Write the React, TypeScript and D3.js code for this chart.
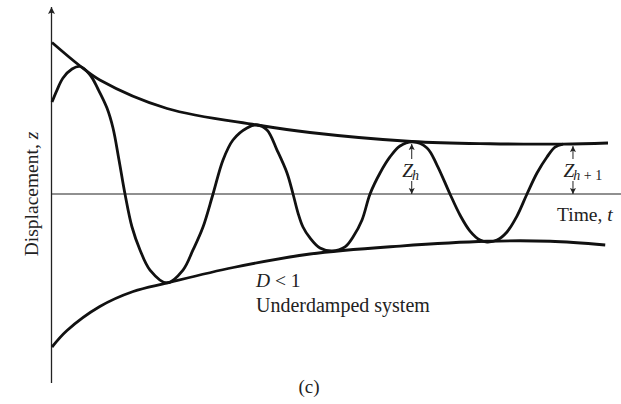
import React from 'react';
import * as d3 from 'd3';

// values: t runs 0..10 across, z is displacement (+1 at top of envelope)
const upperEnvelope: [number, number][] = [
  [0, 1.01], [0.5, 0.855], [0.86, 0.76], [2.07, 0.57], [3.69, 0.46],
  [4.64, 0.41], [6.47, 0.35], [7.88, 0.335], [9.19, 0.333], [10, 0.34],
];

const lowerEnvelope: [number, number][] = [
  [0, -1.02], [0.27, -0.91], [0.86, -0.75], [1.46, -0.65], [2.07, -0.593],
  [3.26, -0.49], [4.64, -0.4], [6.26, -0.347], [7.82, -0.315], [8.96, -0.315], [9.95, -0.34],
];

// response curve, traced point by point
const wave: [number, number][] = [
  [0, 0.613], [0.09, 0.693], [0.198, 0.773], [0.36, 0.833], [0.504, 0.85], [0.683, 0.795],
  [0.827, 0.7], [0.989, 0.573], [1.097, 0.44], [1.205, 0.227], [1.313, 0], [1.439, -0.22],
  [1.583, -0.373], [1.763, -0.507], [2.068, -0.593], [2.356, -0.507], [2.536, -0.373],
  [2.716, -0.22], [2.896, 0], [3.076, 0.227], [3.255, 0.36], [3.507, 0.44], [3.687, 0.46],
  [3.867, 0.427], [4.047, 0.293], [4.227, 0.14], [4.335, 0], [4.425, -0.127], [4.514, -0.22],
  [4.64, -0.293], [4.82, -0.36], [5.036, -0.38], [5.27, -0.353], [5.414, -0.287],
  [5.576, -0.173], [5.72, 0], [5.9, 0.14], [6.079, 0.247], [6.259, 0.32], [6.49, 0.347],
  [6.745, 0.307], [6.924, 0.193], [7.158, 0], [7.338, -0.14], [7.518, -0.247], [7.698, -0.307],
  [7.824, -0.32], [8.004, -0.307], [8.183, -0.253], [8.363, -0.147], [8.543, 0], [8.723, 0.14],
  [8.903, 0.247], [9.047, 0.313], [9.191, 0.333],
];

// amplitude markers: time position, peak value
const amplitudes = [
  { t: 6.47, z: 0.347, sub: 'h' },
  { t: 9.37, z: 0.333, sub: 'h + 1' },
];

const W = 621;
const H = 404;
const font = '"Liberation Serif", "Times New Roman", serif';
const ink = '#222';

export default function App() {
  const x = d3.scaleLinear().domain([0, 10]).range([52, 608]);
  const y = d3.scaleLinear().domain([-1, 1]).range([344, 44]);

  const line = d3.line<[number, number]>()
    .x(d => x(d[0]))
    .y(d => y(d[1]))
    .curve(d3.curveCatmullRom.alpha(0.5));

  const x0 = x(0) - 0.5;
  const y0 = y(0);

  return (
    <svg width={W} height={H} style={{ position: 'absolute', left: 0, top: 0, background: '#fff' }}>
      <defs>
        <marker id="head" viewBox="0 0 10 10" refX="10" refY="5" markerWidth="6" markerHeight="7"
          orient="auto" markerUnits="userSpaceOnUse">
          <path d="M0,0 L10,5 L0,10 L2,5 Z" fill={ink} />
        </marker>
        <marker id="bigHead" viewBox="0 0 10 10" refX="10" refY="5" markerWidth="11" markerHeight="7"
          orient="auto" markerUnits="userSpaceOnUse">
          <path d="M0,0 L10,5 L0,10 L2,5 Z" fill={ink} />
        </marker>
      </defs>

      {/* axes */}
      <line x1={x0} y1={383} x2={x0} y2={7} stroke={ink} strokeWidth={1.3} markerEnd="url(#bigHead)" />
      <line x1={x0} y1={y0} x2={W} y2={y0} stroke={ink} strokeWidth={1.2} />

      {/* envelopes and response */}
      <path d={line(upperEnvelope) ?? ''} fill="none" stroke="#111" strokeWidth={2.8} />
      <path d={line(lowerEnvelope) ?? ''} fill="none" stroke="#111" strokeWidth={2.8} />
      <path d={line(wave) ?? ''} fill="none" stroke="#111" strokeWidth={2.8} strokeLinejoin="round" />

      {/* amplitude arrows */}
      {amplitudes.map((a, i) => {
        const ax = x(a.t);
        const top = y(a.z) + 1;
        return (
          <g key={i}>
            <line x1={ax} y1={159} x2={ax} y2={top + 1} stroke={ink} strokeWidth={1} markerEnd="url(#head)" />
            <line x1={ax} y1={181} x2={ax} y2={y0} stroke={ink} strokeWidth={1} markerEnd="url(#head)" />
            <text x={ax - 9.5} y={177} fontFamily={font} fontSize={19.5} fill={ink} fontStyle="italic">
              Z
              <tspan fontSize={14} dy={3} dx={-1}>
                {a.sub === 'h' ? 'h' : <><tspan fontStyle="italic">h</tspan><tspan fontStyle="normal"> + 1</tspan></>}
              </tspan>
            </text>
          </g>
        );
      })}

      {/* labels */}
      <text transform={`translate(37.5, ${y0}) rotate(-90)`} textAnchor="middle" fontFamily={font}
        fontSize={19.5} fill={ink}>
        Displacement, <tspan fontStyle="italic">z</tspan>
      </text>
      <text x={557} y={221} fontFamily={font} fontSize={19.5} fill={ink}>
        Time, <tspan fontStyle="italic">t</tspan>
      </text>
      <text x={256} y={287} fontFamily={font} fontSize={19.5} fill={ink}>
        <tspan fontStyle="italic">D</tspan> &lt; 1
      </text>
      <text x={256} y={312} fontFamily={font} fontSize={20} fill={ink}>Underdamped system</text>
      <text x={309} y={393} textAnchor="middle" fontFamily={font} fontSize={19} fill={ink}>(c)</text>
    </svg>
  );
}
